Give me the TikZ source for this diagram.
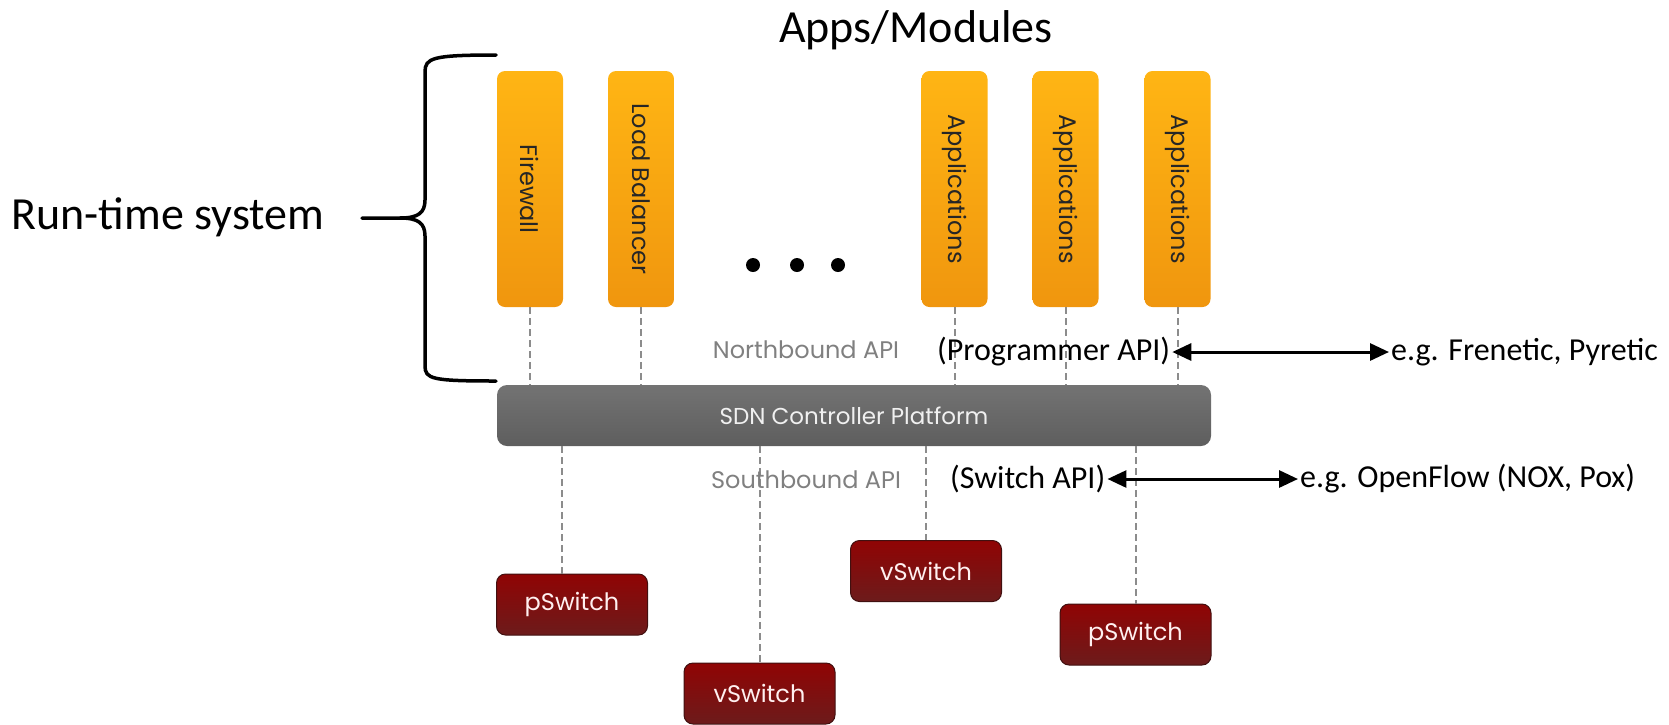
\documentclass[tikz,border=0pt]{standalone}
\usepackage{fontspec}
\usepackage{graphicx}
\usepackage{tikz}
\usetikzlibrary{arrows.meta,positioning}
\setmainfont{Carlito}
\newfontfamily\gothic{Poppins}

\definecolor{apptop}{HTML}{FFB514}
\definecolor{appbot}{HTML}{F0960E}
\definecolor{ctrltop}{HTML}{737373}
\definecolor{ctrlbot}{HTML}{5E5E5E}
\definecolor{swtop}{HTML}{900404}
\definecolor{swbot}{HTML}{6C1B1B}
\definecolor{apigray}{HTML}{808080}
\definecolor{linkgray}{HTML}{8C8C8C}

\begin{document}
\begin{tikzpicture}[x=1pt, y=-1pt,
    app/.style={rounded corners=8pt, top color=apptop, bottom color=appbot,
      minimum width=66pt, minimum height=236pt, inner sep=0pt,
      font=\gothic\fontsize{24}{24}\selectfont, text=black!85},
    swbox/.style={rounded corners=9pt, top color=swtop, bottom color=swbot,
      draw=swbot!60!black, line width=1pt, minimum width=151pt, minimum height=61pt,
      font=\gothic\fontsize{24}{24}\selectfont, text=red!6},
    link/.style={draw=linkgray, line width=2pt, dash pattern=on 7pt off 4pt},
    api/.style={font=\gothic\fontsize{24}{24}\selectfont, text=apigray},
    note/.style={font=\fontsize{32}{32}\selectfont, inner sep=2pt},
    biarrow/.style={line width=3pt, {Triangle[length=19pt,width=17pt]}-{Triangle[length=19pt,width=17pt]}},
    brace/.style={line width=3.5pt, line join=round, line cap=round}]
    \useasboundingbox (0,0) rectangle (1669,724);

    % apps
    \node (title) [font=\fontsize{46}{46}\selectfont] at (916,30) {Apps/Modules};
    \node (fw)  [app] at (530,189)    {\rotatebox{-90}{Firewall}};
    \node (lb)  [app] at (641,189)    {\rotatebox{-90}{Load Balancer}};
    \node (ap1) [app] at (954.5,189)  {\rotatebox{-90}{Applications}};
    \node (ap2) [app] at (1065.5,189) {\rotatebox{-90}{Applications}};
    \node (ap3) [app] at (1177.5,189) {\rotatebox{-90}{Applications}};
    \foreach \x in {753,797,838}
      \fill (\x,265) circle (7pt);

    % run-time system
    \node (rts) [font=\fontsize{46}{46}\selectfont, anchor=west] at (8,217) {Run-time system};
    \draw [brace] (496,55) .. controls (432,55) and (425,58) .. (425,72) -- (425,200)
      .. controls (425,213) and (418,218) .. (400,218) -- (362,218);
    \draw [brace] (400,218) .. controls (418,218) and (425,223) .. (425,236) -- (425,366)
      .. controls (425,379) and (432,381) .. (496,381);

    % controller
    \node (ctrl) [rounded corners=10pt, top color=ctrltop, bottom color=ctrlbot,
      minimum width=714pt, minimum height=61pt,
      font=\gothic\fontsize{23}{23}\selectfont, text=white!94!black] at (854,415.5)
      {SDN Controller Platform};
    \foreach \n in {fw,lb,ap1,ap2,ap3}
      \draw [link] (\n.south) -- (\n.south |- ctrl.north);

    % northbound
    \node (nb) [api] at (806,350) {Northbound API};
    \node (prog) [note, anchor=west] at (935,352) {(Programmer API)};
    \node (fren) [note, anchor=west] at (1389,352) {e.g. Frenetic, Pyretic};
    \draw [biarrow] (prog.east) -- (fren.west);

    % switches
    \node (ps1) [swbox] at (572,604.5)    {pSwitch};
    \node (vs2) [swbox] at (759.5,693.5)  {vSwitch};
    \node (vs1) [swbox] at (926,571)      {vSwitch};
    \node (ps2) [swbox] at (1135.5,634.5) {pSwitch};
    \draw [link] ([xshift=-10pt]ps1.north |- ctrl.south) -- ([xshift=-10pt]ps1.north);
    \foreach \n in {vs2,vs1,ps2}
      \draw [link] (\n.north |- ctrl.south) -- (\n.north);

    % southbound
    \node (sb) [api] at (806,480) {Southbound API};
    \node (swapi) [note, anchor=west] at (948,479) {(Switch API)};
    \node (ofl) [note, anchor=west] at (1298,479) {e.g. OpenFlow (NOX, Pox)};
    \draw [biarrow] (swapi.east) -- (ofl.west);
\end{tikzpicture}
\end{document}
